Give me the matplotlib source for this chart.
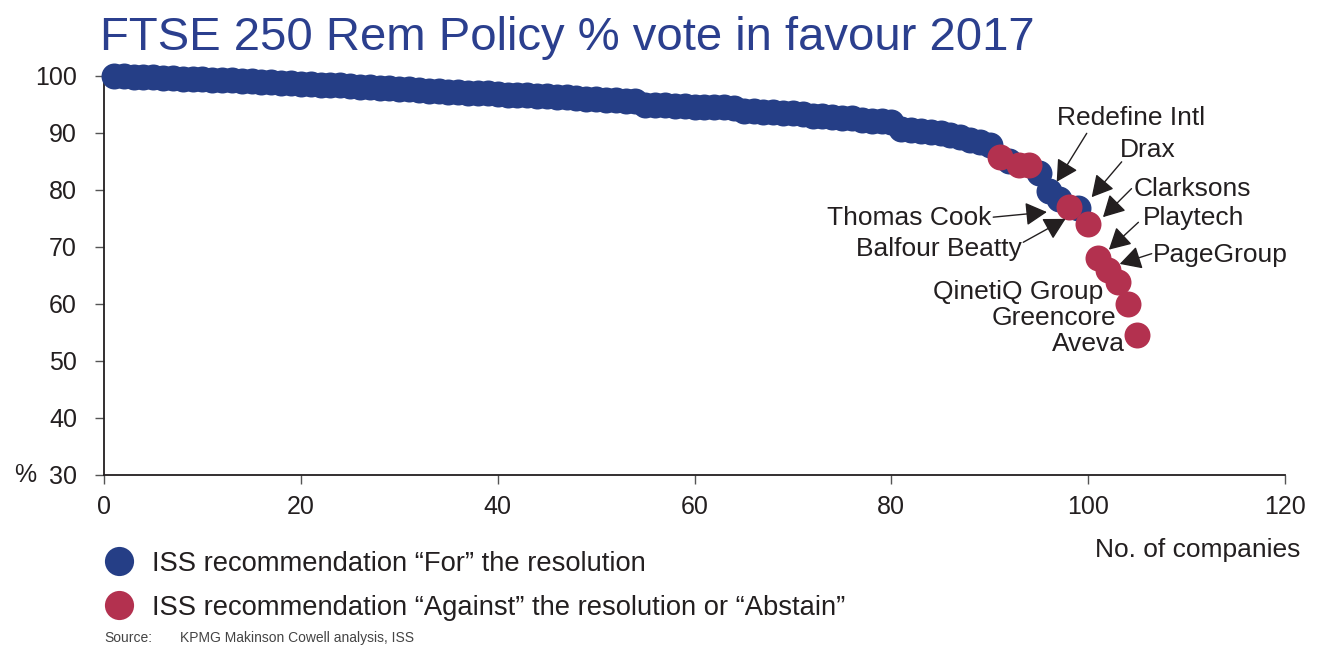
import matplotlib
matplotlib.use('Agg')
import matplotlib.pyplot as plt
from matplotlib.lines import Line2D

plt.rcParams['font.family'] = ['Liberation Sans', 'DejaVu Sans']

BLUE = '#253E86'
RED = '#B3314F'
INK = '#231F20'

# vote in favour (%) per company, sorted high to low (companies 1..105)
votes = [
    100.0, 99.9, 99.8, 99.8, 99.7, 99.6, 99.6, 99.5, 99.4, 99.4,
    99.3, 99.2, 99.2, 99.1, 99.0, 98.9, 98.9, 98.8, 98.7, 98.6,
    98.5, 98.4, 98.3, 98.3, 98.2, 98.1, 98.0, 97.9, 97.8, 97.7,
    97.6, 97.5, 97.4, 97.3, 97.2, 97.1, 97.0, 96.9, 96.9, 96.8,
    96.7, 96.6, 96.6, 96.5, 96.4, 96.3, 96.2, 96.1, 96.0, 95.9,
    95.8, 95.7, 95.6, 95.5, 94.9, 94.8, 94.8, 94.7, 94.7, 94.6,
    94.6, 94.5, 94.5, 94.4, 93.9, 93.8, 93.7, 93.6, 93.5, 93.4,
    93.2, 93.0, 92.9, 92.8, 92.6, 92.5, 92.3, 92.1, 92.0, 91.8,
    90.7, 90.5, 90.3, 90.1, 89.9, 89.6, 89.2, 88.8, 88.3, 87.9,
    85.8, 85.1, 84.4, 84.3, 83.0, 79.8, 78.3, 77.0, 76.8, 74.0,
    68.0, 66.0, 63.9, 60.0, 54.5,
]
# company ranks where ISS recommended "Against" / "Abstain"
against_ranks = [91, 93, 94, 98, 100, 101, 102, 103, 104, 105]

companies = list(range(1, len(votes) + 1))
x_for = [c for c in companies if c not in against_ranks]
y_for = [votes[c - 1] for c in x_for]
x_against = against_ranks
y_against = [votes[c - 1] for c in against_ranks]

# labels: (name, text x, text y, ha, arrow tail, arrow head)
labels = [
    ('Redefine Intl', 96.8, 92.5, 'left', (99.85, 89.9), (96.8, 81.4)),
    ('Drax', 103.2, 86.9, 'left', (103.4, 84.9), (100.35, 78.7)),
    ('Clarksons', 104.6, 80.2, 'left', (104.4, 80.2), (101.5, 75.2)),
    ('Playtech', 105.6, 75.0, 'left', (105.1, 74.3), (102.1, 69.5)),
    ('PageGroup', 106.6, 68.5, 'left', (106.45, 68.8), (103.2, 67.0)),
    ('Thomas Cook', 90.2, 75.0, 'right', (90.35, 75.2), (95.8, 76.1)),
    ('Balfour Beatty', 93.3, 69.7, 'right', (93.4, 70.8), (97.7, 74.9)),
    ('QinetiQ Group', 101.5, 62.0, 'right', None, None),
    ('Greencore', 102.8, 57.6, 'right', None, None),
    ('Aveva', 100.0, 53.0, 'center', None, None),
]

fig = plt.figure(figsize=(13.3, 6.51), dpi=100)
ax = fig.add_axes([0.0782, 0.2704, 0.888, 0.6133])

ax.scatter(x_for, y_for, s=350, color=BLUE, linewidths=0, zorder=3, clip_on=False)
ax.scatter(x_against, y_against, s=350, color=RED, linewidths=0, zorder=4, clip_on=False)

for name, tx, ty, ha, tail, head in labels:
    ax.text(tx, ty, name, ha=ha, va='center', fontsize=19, color=INK, zorder=6)
    if tail is not None:
        ax.annotate('', xy=head, xytext=tail,
                    arrowprops=dict(arrowstyle='-|>,head_length=0.55,head_width=0.3',
                                    color=INK, lw=1.0, mutation_scale=24,
                                    shrinkA=0, shrinkB=0),
                    zorder=5)

ax.set_xlim(0, 120)
ax.set_ylim(30, 100)
ax.set_xticks(range(0, 121, 20))
ax.set_yticks(range(30, 101, 10))
for side in ['top', 'right']:
    ax.spines[side].set_visible(False)
for side in ['left', 'bottom']:
    ax.spines[side].set_linewidth(1.3)
    ax.spines[side].set_color(INK)
ax.tick_params(axis='x', length=6.5, width=1, color='#555555', labelsize=18, pad=8, labelcolor=INK)
ax.tick_params(axis='y', length=6.5, width=1, color='#555555', labelsize=18, pad=13, labelcolor=INK)

ax.text(-0.0575, 0.0, '%', transform=ax.transAxes, ha='right', va='center', fontsize=18, color=INK)

fig.text(1300 / 1330, 1 - 550 / 651, 'No. of companies', ha='right', va='center', fontsize=19, color=INK)
fig.text(100 / 1330, 1 - 50 / 651, 'FTSE 250 Rem Policy % vote in favour 2017',
         ha='left', va='baseline', fontsize=34, color='#2B3F8E')

handles = [
    Line2D([], [], marker='o', ls='', markersize=21, color=BLUE, markeredgewidth=0),
    Line2D([], [], marker='o', ls='', markersize=21, color=RED, markeredgewidth=0),
]
leg_labels = [
    'ISS recommendation \u201cFor\u201d the resolution',
    'ISS recommendation \u201cAgainst\u201d the resolution or \u201cAbstain\u201d',
]
fig.legend(handles, leg_labels, loc='upper left', bbox_to_anchor=(0.0795, 0.154),
           frameon=False, fontsize=19.7, handlelength=1.0, handletextpad=0.7,
           labelspacing=0.66, borderpad=0, borderaxespad=0, labelcolor=INK)

fig.text(104 / 1330, 1 - 638 / 651, 'Source:', ha='left', va='center', fontsize=10, color='#444444')
fig.text(180 / 1330, 1 - 638 / 651, 'KPMG Makinson Cowell analysis, ISS', ha='left', va='center',
         fontsize=10, color='#444444')

fig.savefig('out.png', dpi=100)
